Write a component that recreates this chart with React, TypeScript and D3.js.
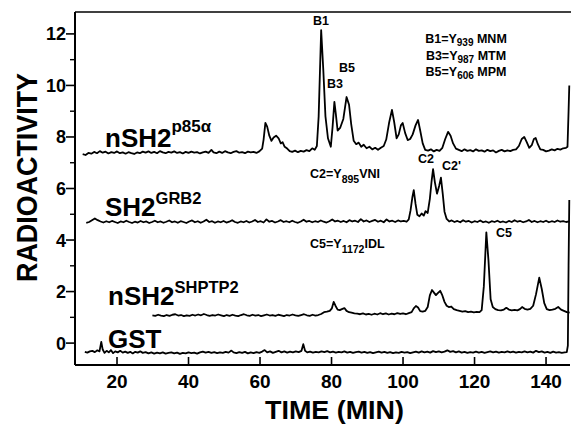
import React from "react";
import * as d3 from "d3";

type Pt = [number, number];

const xTicks = [20, 40, 60, 80, 100, 120, 140];
const yTicksMajor = [0, 2, 4, 6, 8, 10, 12];
const yTicksMinor = [1, 3, 5, 7, 9, 11];

const p85Trace: Pt[] = [
[10.4,7.33],[11.2,7.30],[12.0,7.38],[12.8,7.35],[13.6,7.42],[14.4,7.37],[15.2,7.45],[16.0,7.39],[16.8,7.43],[17.6,7.36],[18.4,7.41],[19.2,7.38],[20.0,7.44],[20.8,7.37],[21.6,7.40],[22.4,7.35],[23.2,7.41],[24.0,7.37],[24.8,7.34],[25.6,7.40],[26.4,7.37],[27.2,7.43],[28.0,7.39],[28.8,7.44],[29.6,7.38],[30.4,7.42],[31.2,7.37],[32.0,7.45],[32.8,7.40],[33.6,7.37],[34.4,7.42],[35.2,7.39],[36.0,7.44],[36.8,7.38],[37.6,7.41],[38.4,7.36],[39.2,7.42],[40.0,7.38],[40.8,7.43],[41.6,7.39],[42.4,7.41],[43.2,7.36],[44.0,7.40],[44.8,7.43],[45.6,7.38],[46.4,7.50],[47.0,7.40],[47.8,7.37],[48.6,7.43],[49.4,7.38],[50.2,7.45],[51.0,7.40],[51.8,7.37],[52.6,7.42],[53.4,7.45],[54.2,7.39],[55.0,7.41],[55.8,7.37],[56.6,7.43],[57.4,7.40],[58.2,7.42],[59.0,7.38],[59.8,7.44],[60.6,7.55],[61.0,7.9],[61.5,8.55],[62.0,8.4],[62.6,8.05],[63.2,7.85],[63.8,7.98],[64.5,8.05],[65.2,7.95],[65.8,7.75],[66.3,7.80],[66.9,7.62],[67.6,7.55],[68.3,7.45],[69.0,7.42],[69.8,7.47],[70.6,7.41],[71.4,7.46],[72.2,7.43],[73.0,7.49],[73.8,7.45],[74.6,7.56],[75.3,7.50],[75.9,7.65],[76.4,8.8],[77.1,12.15],[77.7,10.6],[78.3,8.8],[79.0,7.95],[79.8,7.62],[80.3,8.4],[80.8,9.36],[81.2,8.9],[81.7,8.25],[82.4,8.35],[83.3,8.7],[84.2,9.55],[84.9,9.25],[85.5,8.5],[86.2,7.85],[86.9,7.72],[87.6,7.78],[88.3,7.62],[89.0,7.70],[89.8,7.56],[90.6,7.62],[91.4,7.52],[92.2,7.58],[93.0,7.50],[93.8,7.58],[94.6,7.65],[95.3,7.9],[96.1,8.55],[96.9,9.05],[97.5,8.6],[98.2,7.95],[98.8,8.1],[99.4,8.45],[99.9,8.54],[100.6,8.15],[101.3,7.88],[102.0,7.92],[102.7,8.1],[103.5,8.45],[104.2,8.66],[104.8,8.25],[105.5,7.75],[106.2,7.50],[107.0,7.47],[107.8,7.52],[108.6,7.44],[109.4,7.50],[110.2,7.46],[111.0,7.58],[111.8,7.92],[112.6,8.2],[113.3,8.05],[114.0,7.75],[114.8,7.55],[115.6,7.50],[116.4,7.45],[117.2,7.52],[118.0,7.46],[118.8,7.49],[119.6,7.44],[120.4,7.52],[121.2,7.46],[122.0,7.48],[122.8,7.43],[123.6,7.50],[124.4,7.45],[125.2,7.48],[126.0,7.40],[126.8,7.46],[127.6,7.50],[128.4,7.44],[129.2,7.48],[130.0,7.45],[130.8,7.50],[131.6,7.52],[132.4,7.65],[133.2,7.92],[133.9,8.0],[134.6,7.80],[135.3,7.58],[136.0,7.68],[136.6,7.92],[137.1,7.96],[137.7,7.72],[138.4,7.52],[139.2,7.50],[140.0,7.44],[140.8,7.47],[141.6,7.52],[142.4,7.48],[143.2,7.54],[144.0,7.51],[144.8,7.56],[145.6,7.58],[146.0,7.62],[146.3,9.0],[146.5,10.0]
];

const grb2Trace: Pt[] = [
[11.4,4.67],[12.2,4.70],[13.0,4.77],[13.8,4.84],[14.6,4.77],[15.4,4.72],[16.2,4.68],[17.0,4.73],[17.8,4.69],[18.6,4.74],[19.4,4.70],[20.2,4.66],[21.0,4.72],[21.8,4.69],[22.6,4.75],[23.4,4.70],[24.2,4.66],[25.0,4.71],[25.8,4.68],[26.6,4.74],[27.4,4.69],[28.2,4.72],[29.0,4.66],[29.8,4.70],[30.6,4.75],[31.4,4.69],[32.2,4.72],[33.0,4.67],[33.8,4.71],[34.6,4.76],[35.4,4.69],[36.2,4.72],[37.0,4.67],[37.8,4.73],[38.6,4.70],[39.4,4.66],[40.2,4.72],[41.0,4.76],[41.8,4.69],[42.6,4.73],[43.4,4.67],[44.2,4.72],[45.0,4.79],[45.8,4.70],[46.6,4.73],[47.4,4.67],[48.2,4.72],[49.0,4.69],[49.8,4.74],[50.6,4.68],[51.4,4.71],[52.2,4.77],[53.0,4.70],[53.8,4.67],[54.6,4.72],[55.4,4.69],[56.2,4.74],[57.0,4.68],[57.8,4.72],[58.6,4.78],[59.4,4.70],[60.2,4.73],[61.0,4.68],[61.8,4.80],[62.6,4.71],[63.4,4.74],[64.2,4.68],[65.0,4.72],[65.8,4.77],[66.6,4.70],[67.4,4.73],[68.2,4.69],[69.0,4.75],[69.8,4.70],[70.6,4.67],[71.4,4.72],[72.2,4.79],[73.0,4.71],[73.8,4.74],[74.6,4.69],[75.4,4.73],[76.2,4.70],[77.0,4.76],[77.8,4.71],[78.6,4.68],[79.4,4.73],[80.2,4.80],[81.0,4.72],[81.8,4.75],[82.6,4.70],[83.4,4.74],[84.2,4.69],[85.0,4.77],[85.8,4.72],[86.6,4.75],[87.4,4.70],[88.2,4.81],[89.0,4.72],[89.8,4.76],[90.6,4.70],[91.4,4.74],[92.2,4.78],[93.0,4.71],[93.8,4.75],[94.6,4.69],[95.4,4.80],[96.2,4.72],[97.0,4.75],[97.8,4.70],[98.6,4.76],[99.4,4.72],[100.2,4.74],[101.0,4.71],[101.6,4.80],[102.1,5.15],[102.6,5.65],[103.0,5.94],[103.5,5.40],[104.0,4.98],[104.6,4.92],[105.2,5.03],[105.8,4.95],[106.3,5.12],[106.9,5.05],[107.5,5.60],[108.0,6.30],[108.4,6.75],[108.9,6.25],[109.5,5.80],[110.1,6.10],[110.6,6.42],[111.1,5.80],[111.6,5.10],[112.2,4.82],[112.9,4.72],[113.6,4.76],[114.4,4.70],[115.2,4.74],[116.0,4.69],[116.8,4.77],[117.6,4.71],[118.4,4.74],[119.2,4.68],[120.0,4.73],[120.8,4.70],[121.6,4.76],[122.4,4.69],[123.2,4.72],[124.0,4.67],[124.8,4.73],[125.6,4.70],[126.4,4.75],[127.2,4.69],[128.0,4.72],[128.8,4.68],[129.6,4.74],[130.4,4.70],[131.2,4.77],[132.0,4.71],[132.8,4.74],[133.6,4.69],[134.4,4.72],[135.2,4.78],[136.0,4.70],[136.8,4.74],[137.6,4.69],[138.4,4.73],[139.2,4.70],[140.0,4.75],[140.8,4.69],[141.6,4.73],[142.4,4.70],[143.2,4.76],[144.0,4.71],[144.8,4.73],[145.6,4.70],[146.5,4.72]
];

const shptp2Trace: Pt[] = [
[29.9,1.08],[30.7,1.06],[31.5,1.10],[32.3,1.07],[33.1,1.05],[33.9,1.09],[34.7,1.06],[35.5,1.10],[36.3,1.12],[37.1,1.07],[37.9,1.09],[38.7,1.05],[39.5,1.08],[40.3,1.06],[41.1,1.10],[41.9,1.07],[42.7,1.11],[43.5,1.08],[44.3,1.13],[45.1,1.09],[45.9,1.06],[46.7,1.09],[47.5,1.07],[48.3,1.11],[49.1,1.08],[49.9,1.05],[50.7,1.09],[51.5,1.06],[52.3,1.10],[53.1,1.07],[53.9,1.05],[54.7,1.09],[55.5,1.12],[56.3,1.08],[57.1,1.06],[57.9,1.10],[58.7,1.07],[59.5,1.09],[60.3,1.05],[61.1,1.08],[61.9,1.11],[62.7,1.07],[63.5,1.09],[64.3,1.06],[65.1,1.10],[65.9,1.08],[66.7,1.05],[67.5,1.09],[68.3,1.07],[69.1,1.11],[69.9,1.08],[70.7,1.06],[71.5,1.09],[72.3,1.12],[73.1,1.08],[73.9,1.06],[74.7,1.10],[75.5,1.07],[76.3,1.09],[77.1,1.13],[77.9,1.20],[78.7,1.22],[79.5,1.25],[80.1,1.35],[80.6,1.60],[81.1,1.45],[81.7,1.30],[82.3,1.28],[82.9,1.32],[83.6,1.36],[84.2,1.25],[84.9,1.20],[85.6,1.18],[86.4,1.15],[87.2,1.14],[88.0,1.12],[88.8,1.15],[89.6,1.11],[90.4,1.13],[91.2,1.10],[92.0,1.14],[92.8,1.11],[93.6,1.16],[94.4,1.12],[95.2,1.15],[96.0,1.11],[96.8,1.14],[97.6,1.12],[98.4,1.16],[99.2,1.13],[100.0,1.15],[100.8,1.12],[101.6,1.16],[102.4,1.20],[103.0,1.35],[103.6,1.44],[104.2,1.38],[104.8,1.24],[105.5,1.22],[106.2,1.25],[106.9,1.40],[107.5,1.85],[108.1,2.06],[108.7,1.95],[109.2,1.86],[109.8,1.95],[110.4,2.03],[111.0,1.85],[111.6,1.60],[112.2,1.45],[112.8,1.40],[113.5,1.42],[114.2,1.32],[115.0,1.28],[115.8,1.25],[116.6,1.22],[117.4,1.24],[118.2,1.20],[119.0,1.22],[119.8,1.19],[120.6,1.21],[121.4,1.20],[122.0,1.28],[122.6,2.20],[123.3,4.30],[123.9,3.20],[124.5,1.70],[125.1,1.40],[125.8,1.32],[126.6,1.28],[127.4,1.27],[128.2,1.30],[128.9,1.37],[129.6,1.30],[130.4,1.27],[131.2,1.29],[132.0,1.27],[132.7,1.32],[133.3,1.40],[134.0,1.33],[134.8,1.30],[135.6,1.33],[136.4,1.45],[137.2,1.90],[138.1,2.54],[138.8,2.10],[139.5,1.55],[140.2,1.32],[141.0,1.28],[141.8,1.30],[142.6,1.33],[143.4,1.40],[144.2,1.30],[145.0,1.25],[145.8,1.20],[146.6,1.18]
];

const gstTrace: Pt[] = [
[11.0,-0.34],[11.7,-0.37],[12.4,-0.32],[13.1,-0.30],[13.8,-0.35],[14.5,-0.28],[15.1,-0.32],[15.6,0.05],[16.0,-0.25],[16.5,-0.38],[17.1,-0.30],[17.7,-0.36],[18.3,-0.27],[18.9,-0.39],[19.5,-0.32],[20.2,-0.36],[20.9,-0.30],[21.6,-0.37],[22.3,-0.33],[23.0,-0.38],[23.7,-0.34],[24.4,-0.40],[25.1,-0.34],[25.8,-0.37],[26.5,-0.32],[27.2,-0.38],[28.0,-0.35],[28.8,-0.40],[29.6,-0.36],[30.4,-0.41],[31.2,-0.37],[32.0,-0.40],[32.8,-0.36],[33.6,-0.41],[34.4,-0.38],[35.2,-0.36],[36.0,-0.40],[36.8,-0.37],[37.6,-0.42],[38.4,-0.38],[39.2,-0.40],[40.0,-0.36],[40.8,-0.39],[41.6,-0.37],[42.4,-0.41],[43.2,-0.36],[44.0,-0.33],[44.8,-0.37],[45.6,-0.34],[46.4,-0.38],[47.2,-0.35],[48.0,-0.39],[48.8,-0.36],[49.6,-0.38],[50.4,-0.34],[51.2,-0.37],[52.0,-0.29],[52.6,-0.36],[53.4,-0.39],[54.2,-0.35],[55.0,-0.38],[55.8,-0.34],[56.6,-0.40],[57.4,-0.36],[58.2,-0.39],[59.0,-0.35],[59.8,-0.38],[60.6,-0.33],[61.3,-0.27],[62.0,-0.36],[62.8,-0.32],[63.6,-0.38],[64.4,-0.34],[65.2,-0.30],[66.0,-0.36],[66.8,-0.32],[67.6,-0.37],[68.4,-0.33],[69.2,-0.36],[70.0,-0.32],[70.8,-0.35],[71.6,-0.30],[72.1,-0.04],[72.6,-0.30],[73.2,-0.36],[74.0,-0.33],[74.8,-0.37],[75.6,-0.34],[76.4,-0.36],[77.2,-0.32],[78.0,-0.35],[78.8,-0.31],[79.6,-0.36],[80.4,-0.33],[81.2,-0.37],[82.0,-0.34],[82.8,-0.36],[83.6,-0.32],[84.4,-0.37],[85.2,-0.34],[86.0,-0.38],[86.8,-0.35],[87.6,-0.33],[88.4,-0.37],[89.2,-0.34],[90.0,-0.38],[90.8,-0.35],[91.6,-0.39],[92.4,-0.36],[93.2,-0.33],[94.0,-0.37],[94.8,-0.34],[95.6,-0.38],[96.4,-0.35],[97.2,-0.39],[98.0,-0.36],[98.8,-0.38],[99.6,-0.34],[100.4,-0.37],[101.2,-0.35],[102.0,-0.39],[102.8,-0.36],[103.6,-0.33],[104.4,-0.37],[105.2,-0.32],[106.0,-0.36],[106.8,-0.33],[107.6,-0.37],[108.4,-0.31],[109.2,-0.35],[110.0,-0.32],[110.8,-0.36],[111.6,-0.33],[112.4,-0.28],[113.2,-0.34],[114.0,-0.31],[114.8,-0.36],[115.6,-0.32],[116.4,-0.37],[117.2,-0.34],[118.0,-0.38],[118.8,-0.35],[119.6,-0.37],[120.4,-0.33],[121.2,-0.37],[122.0,-0.34],[122.8,-0.38],[123.6,-0.35],[124.4,-0.32],[125.2,-0.36],[126.0,-0.33],[126.8,-0.37],[127.6,-0.34],[128.4,-0.36],[129.2,-0.32],[130.0,-0.36],[130.8,-0.33],[131.6,-0.37],[132.4,-0.34],[133.2,-0.36],[134.0,-0.32],[134.8,-0.36],[135.6,-0.33],[136.4,-0.37],[137.2,-0.30],[138.0,-0.35],[138.8,-0.32],[139.6,-0.37],[140.4,-0.34],[141.2,-0.38],[142.0,-0.33],[142.8,-0.37],[143.6,-0.35],[144.4,-0.38],[145.2,-0.36],[145.8,-0.35],[146.1,-0.10],[146.3,3.0],[146.5,5.55]
];

const traces: Pt[][] = [p85Trace, grb2Trace, shptp2Trace, gstTrace];

const W = 571;
const H = 426;
const FONT = "'Liberation Sans', Arial, Helvetica, sans-serif";

export default function App() {
  const x = d3.scaleLinear().domain([8.25, 146.7]).range([75, 570]);
  const y = d3.scaleLinear().domain([-0.85, 12.85]).range([365, 12]);
  const line = d3
    .line<Pt>()
    .x((d) => x(d[0]))
    .y((d) => y(d[1]))
    .curve(d3.curveLinear);

  const x0 = x.range()[0];
  const x1 = x.range()[1];
  const yb = y.range()[0];
  const yt = y.range()[1];

  return (
    <svg
      width={W}
      height={H}
      viewBox={`0 0 ${W} ${H}`}
      style={{ position: "absolute", left: 0, top: 0, background: "#fff" }}
      fontFamily={FONT}
      fontWeight="bold"
    >
      <rect x={0} y={0} width={W} height={H} fill="#fff" />
      {/* frame */}
      <line x1={x0} y1={yt} x2={W} y2={yt} stroke="#000" strokeWidth={1.6} />
      <line x1={x0} y1={yt} x2={x0} y2={yb} stroke="#000" strokeWidth={2} />
      <line x1={x0} y1={yb} x2={x1} y2={yb} stroke="#000" strokeWidth={2} />

      {/* y ticks */}
      {yTicksMajor.map((v) => (
        <g key={"ym" + v}>
          <line x1={x0 - 9} x2={x0} y1={y(v)} y2={y(v)} stroke="#000" strokeWidth={1.6} />
          <text x={x0 - 9} y={y(v) + 6.5} textAnchor="end" fontSize={18}>
            {v}
          </text>
        </g>
      ))}
      {yTicksMinor.map((v) => (
        <line key={"yn" + v} x1={x0 - 5} x2={x0} y1={y(v)} y2={y(v)} stroke="#000" strokeWidth={1.4} />
      ))}

      {/* x ticks */}
      {xTicks.map((t) => (
        <g key={"x" + t}>
          <line x1={x(t)} x2={x(t)} y1={yb} y2={yb - 8} stroke="#000" strokeWidth={1.6} />
          <text x={x(t)} y={388} textAnchor="middle" fontSize={19}>
            {t}
          </text>
        </g>
      ))}

      {/* traces */}
      {traces.map((tr, i) => (
        <path
          key={i}
          d={line(tr) || ""}
          fill="none"
          stroke="#000"
          strokeWidth={1.8}
          strokeLinejoin="round"
        />
      ))}

      {/* axis titles */}
      <text
        transform="translate(37,177.5) rotate(-90)"
        textAnchor="middle"
        fontSize={30}
        textLength={209}
        lengthAdjust="spacingAndGlyphs"
      >
        RADIOACTIVITY
      </text>
      <text x={265} y={419} fontSize={26} textLength={139} lengthAdjust="spacingAndGlyphs">
        TIME (MIN)
      </text>

      {/* series labels */}
      <text x={105} y={147} fontSize={26}>
        nSH2
        <tspan fontSize={17} dy={-15}>p85α</tspan>
      </text>
      <text x={105} y={216} fontSize={26}>
        SH2
        <tspan fontSize={16.5} dy={-12}>GRB2</tspan>
      </text>
      <text x={108} y={305} fontSize={26}>
        nSH2
        <tspan fontSize={16.5} dy={-12}>SHPTP2</tspan>
      </text>
      <text x={108} y={348} fontSize={26}>
        GST
      </text>

      {/* peak labels */}
      <text x={313} y={25} fontSize={12.5}>B1</text>
      <text x={327} y={88} fontSize={12.5}>B3</text>
      <text x={339} y={72} fontSize={12.5}>B5</text>
      <text x={418} y={163} fontSize={12.5}>C2</text>
      <text x={442} y={170} fontSize={12.5}>C2'</text>
      <text x={496} y={237} fontSize={12.5}>C5</text>

      {/* assignments */}
      <text x={466} y={43} textAnchor="middle" fontSize={12.5}>
        B1=Y<tspan fontSize={10} dy={3}>939</tspan>
        <tspan dy={-3}> MNM</tspan>
      </text>
      <text x={466} y={60} textAnchor="middle" fontSize={12.5}>
        B3=Y<tspan fontSize={10} dy={3}>987</tspan>
        <tspan dy={-3}> MTM</tspan>
      </text>
      <text x={466} y={76} textAnchor="middle" fontSize={12.5}>
        B5=Y<tspan fontSize={10} dy={3}>606</tspan>
        <tspan dy={-3}> MPM</tspan>
      </text>
      <text x={310} y={178} fontSize={12.5}>
        C2=Y<tspan fontSize={10.5} dy={5}>895</tspan>
        <tspan dy={-5}>VNI</tspan>
      </text>
      <text x={310} y={248} fontSize={12.5}>
        C5=Y<tspan fontSize={10.5} dy={5}>1172</tspan>
        <tspan dy={-5}>IDL</tspan>
      </text>
    </svg>
  );
}
